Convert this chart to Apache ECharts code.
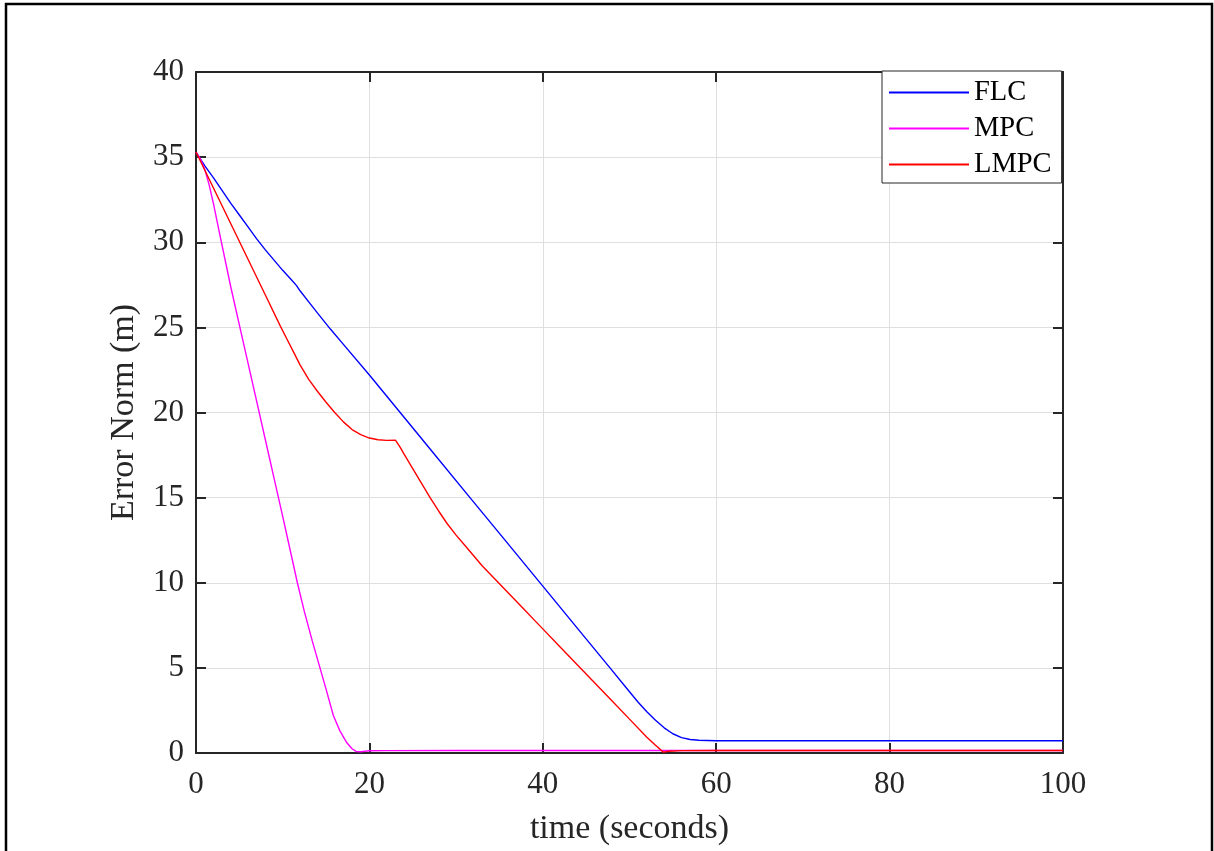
<!DOCTYPE html>
<html>
<head>
<meta charset="utf-8">
<script src="https://cdn.jsdelivr.net/npm/echarts@6/dist/echarts.min.js"></script>
<style>
  html, body { margin: 0; padding: 0; background: #fff; }
  #chart { width: 1214px; height: 851px; }
</style>
</head>
<body>
<div id="chart"></div>
<script>
// Error norm over time for three controllers
const seriesNames = ['FLC', 'MPC', 'LMPC'];

const flcT = [0, 1, 2, 3, 4, 5, 6, 7, 8, 9, 10, 11, 11.6, 12, 13, 14, 15.5, 17, 20, 23.5, 27, 31.6, 35, 40, 44, 47.75, 50, 51, 52, 53, 54, 55, 56, 57, 58, 60, 80, 100];
const flcV = [35.3, 34.5, 33.8, 33.05, 32.3, 31.6, 30.9, 30.2, 29.55, 28.95, 28.35, 27.8, 27.45, 27.15, 26.5, 25.85, 24.9, 24.0, 22.2, 20.03, 17.86, 15.0, 12.9, 9.8, 7.32, 5.0, 3.6, 2.98, 2.42, 1.92, 1.48, 1.13, 0.9, 0.79, 0.75, 0.72, 0.72, 0.72];

const mpcT = [0, 0.5, 1, 1.5, 2, 2.85, 4, 5, 6, 7, 8, 9, 10, 11, 11.69, 12.5, 13.4, 14.3, 15, 15.84, 16.6, 17.4, 18, 18.5, 19, 19.5, 20, 22, 30, 100];
const mpcV = [35.3, 34.9, 34.3, 33.4, 32.3, 30.2, 27.4, 25.15, 22.9, 20.65, 18.4, 16.15, 13.9, 11.6, 10.0, 8.3, 6.6, 5.0, 3.75, 2.2, 1.3, 0.6, 0.25, 0.08, 0.07, 0.1, 0.13, 0.14, 0.15, 0.15];

const lmpcT = [0, 2, 4, 6, 8, 9.7, 10.5, 11.3, 12, 13, 14, 15, 16, 17, 18, 19, 20, 21, 22, 23, 23.5, 24, 25, 26, 27, 28, 29, 30, 31, 32, 33, 34, 35, 36, 37, 38, 39, 40, 42, 44, 46, 48, 50, 52, 53, 53.9, 54.5, 56, 60, 100];
const lmpcV = [35.3, 33.2, 31.1, 29.0, 26.9, 25.1, 24.3, 23.5, 22.8, 21.95, 21.25, 20.6, 20.0, 19.45, 19.0, 18.7, 18.5, 18.4, 18.36, 18.38, 18.0, 17.55, 16.7, 15.85, 15.0, 14.2, 13.45, 12.8, 12.2, 11.6, 11.0, 10.47, 9.94, 9.41, 8.88, 8.35, 7.82, 7.29, 6.23, 5.17, 4.11, 3.05, 1.99, 0.93, 0.45, 0.05, 0.1, 0.14, 0.15, 0.15];

const seriesColors = ['#0000ff', '#ff00ff', '#ff0000'];

const xTicks = { min: 0, max: 100, interval: 20 };
const yTicks = { min: 0, max: 40, interval: 5 };

function pairs(ts, vs) { return ts.map((t, i) => [t, vs[i]]); }

const FONT = '"Liberation Serif", "Times New Roman", serif';
const AXIS_COLOR = '#262626';

const chart = echarts.init(document.getElementById('chart'), null, { renderer: 'canvas' });

function axisBase(extra) {
  return Object.assign({
    type: 'value',
    axisLine: { show: true, onZero: false, lineStyle: { color: AXIS_COLOR, width: 2 } },
    axisTick: { show: true, inside: true, length: 10, lineStyle: { color: AXIS_COLOR, width: 2 } },
    splitLine: { show: false },
    axisLabel: { show: false }
  }, extra);
}

const option = {
  backgroundColor: '#ffffff',
  animation: false,
  grid: { left: 196, right: 151, top: 72, bottom: 97, containLabel: false },
  graphic: [{
    type: 'rect',
    shape: { x: 6, y: 4, width: 1206, height: 900 },
    style: { fill: 'none', stroke: '#000000', lineWidth: 2.5 },
    silent: true,
    z: 100
  }],
  legend: {
    data: seriesNames,
    orient: 'vertical',
    left: 882,
    top: 71,
    itemWidth: 80,
    itemHeight: 2,
    itemGap: 7,
    icon: 'rect',
    padding: [7, 10, 4, 7],
    backgroundColor: '#ffffff',
    borderColor: AXIS_COLOR,
    borderWidth: 1,
    borderRadius: 0,
    textStyle: { fontFamily: FONT, fontSize: 28.5, color: '#000000', lineHeight: 28 }
  },
  xAxis: [
    axisBase({
      position: 'bottom',
      min: xTicks.min, max: xTicks.max, interval: xTicks.interval,
      name: 'time (seconds)',
      nameLocation: 'middle',
      nameGap: 59,
      nameTextStyle: { fontFamily: FONT, fontSize: 34, color: AXIS_COLOR },
      splitLine: { show: true, lineStyle: { color: '#dfdfdf', width: 1 } },
      axisLabel: { show: true, margin: 16, fontFamily: FONT, fontSize: 31, color: AXIS_COLOR }
    }),
    axisBase({ position: 'top', min: xTicks.min, max: xTicks.max, interval: xTicks.interval })
  ],
  yAxis: [
    axisBase({
      position: 'left',
      min: yTicks.min, max: yTicks.max, interval: yTicks.interval,
      name: 'Error Norm (m)',
      nameLocation: 'middle',
      nameGap: 55,
      nameTextStyle: { fontFamily: FONT, fontSize: 34, color: AXIS_COLOR },
      splitLine: { show: true, lineStyle: { color: '#dfdfdf', width: 1 } },
      axisLabel: { show: true, margin: 12, fontFamily: FONT, fontSize: 31, color: AXIS_COLOR }
    }),
    axisBase({ position: 'right', min: yTicks.min, max: yTicks.max, interval: yTicks.interval })
  ],
  series: [
    { name: seriesNames[0], data: pairs(flcT, flcV) },
    { name: seriesNames[1], data: pairs(mpcT, mpcV) },
    { name: seriesNames[2], data: pairs(lmpcT, lmpcV) }
  ].map((s, i) => Object.assign({
    type: 'line',
    xAxisIndex: 0,
    yAxisIndex: 0,
    showSymbol: false,
    symbol: 'none',
    smooth: false,
    color: seriesColors[i],
    lineStyle: { color: seriesColors[i], width: 1.4 },
    z: 2 + i
  }, s))
};

chart.setOption(option);
</script>
</body>
</html>
